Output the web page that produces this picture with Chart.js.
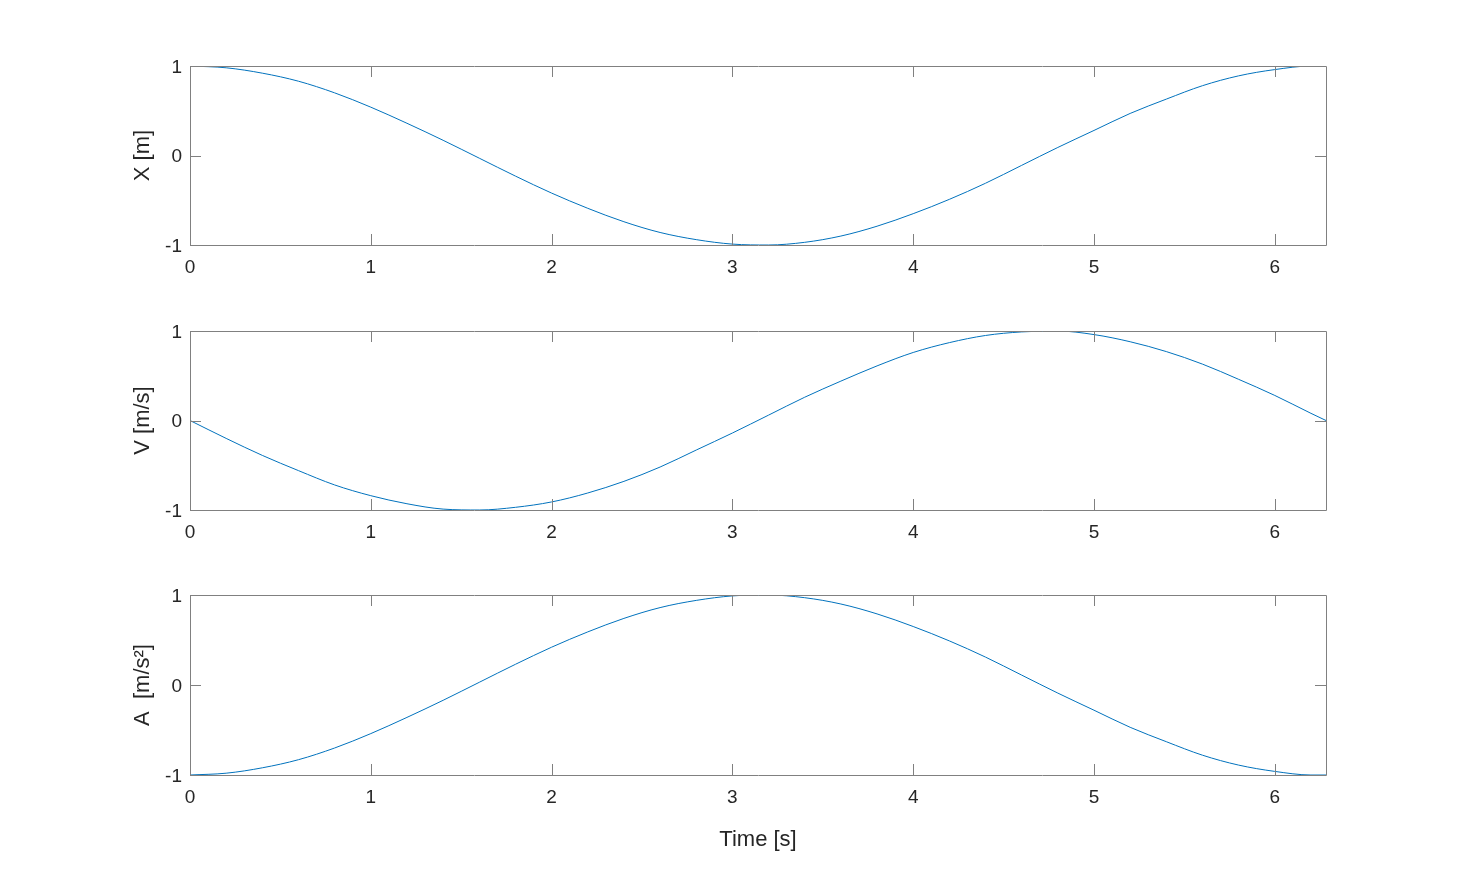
<!DOCTYPE html>
<html>
<head>
<meta charset="utf-8">
<script src="https://cdn.jsdelivr.net/npm/chart.js@4.4.0/dist/chart.umd.min.js"></script>
<style>
  body { margin: 0; background: #fff; }
  .wrap { position: relative; width: 1465px; height: 882px; }
  canvas { position: absolute; left: 0; }
</style>
</head>
<body>
<div class="wrap">
  <canvas id="chart-x" width="1465" height="290" style="top:0px"></canvas>
  <canvas id="chart-v" width="1465" height="290" style="top:265px"></canvas>
  <canvas id="chart-a" width="1465" height="326" style="top:529px"></canvas>
</div>
<script>
const time = [0, 0.2, 0.4, 0.6, 0.8, 1.0, 1.2, 1.4, 1.6, 1.8, 2.0, 2.2, 2.4, 2.6, 2.8, 3.0,
  3.2, 3.4, 3.6, 3.8, 4.0, 4.2, 4.4, 4.6, 4.8, 5.0, 5.2, 5.4, 5.6, 5.8, 6.0, 6.2, 6.2832];
const posX = [1.00, 0.98, 0.92, 0.83, 0.70, 0.54, 0.36, 0.17, -0.03, -0.23, -0.42, -0.59, -0.74, -0.86, -0.94, -0.99,
  -1.00, -0.97, -0.90, -0.79, -0.65, -0.49, -0.31, -0.11, 0.09, 0.28, 0.47, 0.63, 0.78, 0.89, 0.96, 1.00, 1.00];
const velV = [0.00, -0.20, -0.39, -0.56, -0.72, -0.84, -0.93, -0.99, -1.00, -0.97, -0.91, -0.81, -0.68, -0.52, -0.33, -0.14,
  0.06, 0.26, 0.44, 0.61, 0.76, 0.87, 0.95, 0.99, 1.00, 0.96, 0.88, 0.77, 0.63, 0.46, 0.28, 0.08, 0.00];
const accA = [-1.00, -0.98, -0.92, -0.83, -0.70, -0.54, -0.36, -0.17, 0.03, 0.23, 0.42, 0.59, 0.74, 0.86, 0.94, 0.99,
  1.00, 0.97, 0.90, 0.79, 0.65, 0.49, 0.31, 0.11, -0.09, -0.28, -0.47, -0.63, -0.78, -0.89, -0.96, -1.00, -1.00];
const yTicks = [-1, 0, 1];
const xMax = 6.2832;

const textColor = "#262626";
const frameColor = "#808080";
const fontFamily = "'Liberation Sans', Arial, sans-serif";

// box around the plot with inward tick marks on all four sides
const boxTicks = {
  id: "boxTicks",
  afterDraw(chart) {
    const { ctx, chartArea: a, scales } = chart;
    const tl = 11;
    ctx.save();
    ctx.strokeStyle = frameColor;
    ctx.lineWidth = 1;
    ctx.beginPath();
    ctx.rect(a.left + 0.5, a.top + 0.5, a.right - a.left, a.bottom - a.top);
    scales.x.ticks.forEach((t) => {
      const px = Math.round(scales.x.getPixelForValue(t.value)) + 0.5;
      ctx.moveTo(px, a.bottom);
      ctx.lineTo(px, a.bottom - tl);
      ctx.moveTo(px, a.top);
      ctx.lineTo(px, a.top + tl);
    });
    scales.y.ticks.forEach((t) => {
      const py = Math.round(scales.y.getPixelForValue(t.value)) + 0.5;
      ctx.moveTo(a.left, py);
      ctx.lineTo(a.left + tl, py);
      ctx.moveTo(a.right, py);
      ctx.lineTo(a.right - tl, py);
    });
    ctx.stroke();
    ctx.restore();
  },
};

function makeChart(id, values, yTitle, xTitle, xAxisHeight) {
  const points = time.map((t, i) => ({ x: t, y: values[i] }));
  return new Chart(document.getElementById(id), {
    type: "line",
    data: {
      datasets: [
        {
          data: points,
          borderColor: "#0072BD",
          borderWidth: 1,
          pointRadius: 0,
          cubicInterpolationMode: "monotone",
        },
      ],
    },
    options: {
      responsive: false,
      animation: false,
      layout: { padding: { left: 0, right: 139, top: 66, bottom: 0 } },
      plugins: { legend: { display: false }, tooltip: { enabled: false } },
      scales: {
        x: {
          type: "linear",
          min: 0,
          max: xMax,
          grid: { display: false },
          border: { display: false },
          ticks: {
            stepSize: 1,
            includeBounds: false,
            padding: 3,
            color: textColor,
            font: { family: fontFamily, size: 19 },
          },
          title: {
            display: !!xTitle,
            text: xTitle,
            color: textColor,
            font: { family: fontFamily, size: 22 },
            padding: { top: 0, bottom: 2 },
          },
          afterFit: (axis) => {
            axis.height = xAxisHeight;
          },
        },
        y: {
          min: -1,
          max: 1,
          grid: { display: false },
          border: { display: false },
          afterBuildTicks: (axis) => {
            axis.ticks = yTicks.map((v) => ({ value: v }));
          },
          ticks: {
            padding: 0,
            labelOffset: 1.5,
            color: textColor,
            font: { family: fontFamily, size: 19 },
          },
          title: {
            display: true,
            text: yTitle,
            color: textColor,
            font: { family: fontFamily, size: 22 },
            padding: { top: 130, bottom: 0 },
          },
          afterFit: (axis) => {
            axis.width = 190;
          },
        },
      },
    },
    plugins: [boxTicks],
  });
}

makeChart("chart-x", posX, "X [m]", "", 45);
makeChart("chart-v", velV, "V [m/s]", "", 45);
makeChart("chart-a", accA, "A  [m/s²]", "Time [s]", 80);
</script>
</body>
</html>
